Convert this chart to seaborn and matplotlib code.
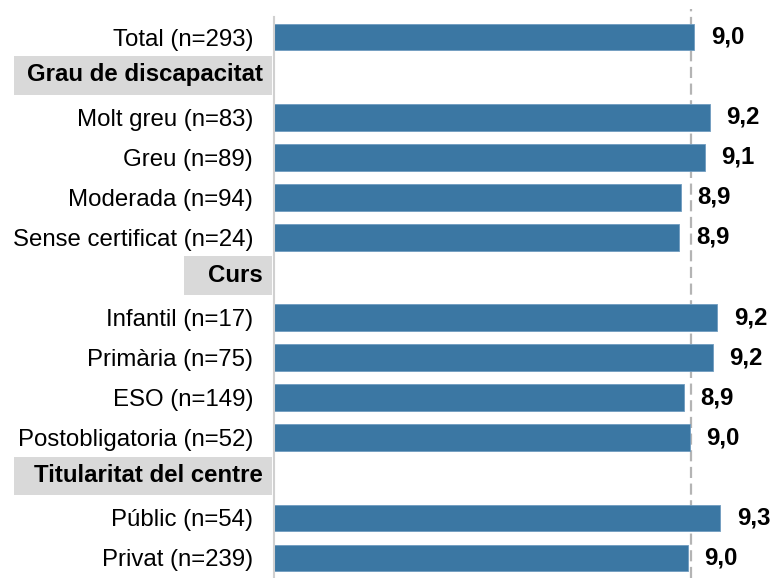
import matplotlib
matplotlib.use("Agg")
import matplotlib.pyplot as plt
import matplotlib.transforms as mtransforms
from matplotlib.patches import Rectangle
import pandas as pd
import seaborn as sns

# Rows from top to bottom; group headers carry no bar
rows = [
    "Total (n=293)",
    "Grau de discapacitat",
    "Molt greu (n=83)",
    "Greu (n=89)",
    "Moderada (n=94)",
    "Sense certificat (n=24)",
    "Curs",
    "Infantil (n=17)",
    "Primària (n=75)",
    "ESO (n=149)",
    "Postobligatoria (n=52)",
    "Titularitat del centre",
    "Públic (n=54)",
    "Privat (n=239)",
]
headers = ["Grau de discapacitat", "Curs", "Titularitat del centre"]

categories = [
    "Total (n=293)",
    "Molt greu (n=83)",
    "Greu (n=89)",
    "Moderada (n=94)",
    "Sense certificat (n=24)",
    "Infantil (n=17)",
    "Primària (n=75)",
    "ESO (n=149)",
    "Postobligatoria (n=52)",
    "Públic (n=54)",
    "Privat (n=239)",
]
scores = [9.02, 9.17, 9.12, 8.89, 8.88, 9.24, 9.20, 8.92, 8.98, 9.27, 8.96]
reference = 8.99

df = pd.DataFrame({"grup": categories, "nota": scores})

sns.set_style("white")
plt.rcParams["font.family"] = ["Liberation Sans", "DejaVu Sans"]

FS = 17.25
W, H = 771, 578
fig = plt.figure(figsize=(W / 100, H / 100), dpi=100)
ax_left, ax_right = 274, 760
ax = fig.add_axes([ax_left / W, 0.0, (ax_right - ax_left) / W, 561 / H])

bar_color = "#3b77a3"
sns.barplot(data=df, x="nota", y="grup", order=rows, orient="h",
            color=bar_color, saturation=1, width=0.667,
            edgecolor="#6f9cc0", linewidth=0.6, ax=ax)

ax.set_xlim(5, 5 + (ax_right - ax_left) / 104.5)
ax.set_ylim(len(rows) - 0.5, -0.5)

# Value labels
for container in ax.containers:
    vals = container.datavalues
    labels = [f"{v:.1f}".replace(".", ",") for v in vals]
    ax.bar_label(container, labels=labels, padding=12, fontsize=FS,
                 fontweight="bold", color="black")

# Reference line at the overall mean
ax.axvline(reference, ymin=0, ymax=1 + 8 / 561, color="#b4b4b4", lw=1.6,
           dashes=(5, 2.5), clip_on=False, zorder=0)

# Axis styling
ax.set_xlabel("")
ax.set_ylabel("")
ax.set_xticks([])
for side in ["top", "right", "bottom"]:
    ax.spines[side].set_visible(False)
ax.spines["left"].set_color("#d0d0d0")
ax.spines["left"].set_linewidth(1.5)
ax.tick_params(axis="y", length=0, pad=15, labelsize=FS, labelcolor="black")
ax.set_yticks(range(len(rows)))
ax.set_yticklabels(["" if r in headers else r for r in rows])

# Group headers in grey boxes
axw = ax_right - ax_left
trans = mtransforms.blended_transform_factory(ax.transAxes, ax.transData)
box_left = {"Grau de discapacitat": 14, "Curs": 184, "Titularitat del centre": 14}
for h in headers:
    i = rows.index(h)
    x0 = (box_left[h] - ax_left) / axw
    x1 = (272 - ax_left) / axw
    ax.add_patch(Rectangle((x0, i - 0.53), x1 - x0, 0.97, transform=trans,
                           facecolor="#d9d9d9", edgecolor="none", clip_on=False,
                           zorder=1))
    ax.text((263 - ax_left) / axw, i - 0.06, h, transform=trans, ha="right",
            va="center", fontsize=FS, fontweight="bold", color="black",
            zorder=2, clip_on=False)

fig.savefig("out.png", dpi=100)
